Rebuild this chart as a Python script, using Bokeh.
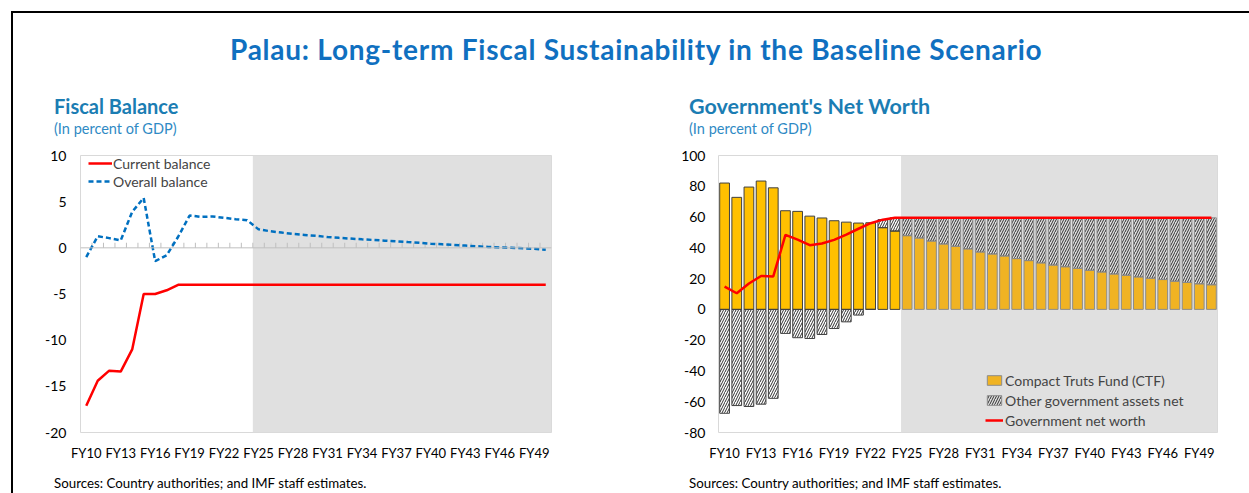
from bokeh.plotting import figure
from bokeh.models import (ColumnDataSource, Range1d, FixedTicker, BoxAnnotation, Span,
                          Legend, LegendItem, Div)
from bokeh.layouts import column, row
from bokeh.embed import file_html
from bokeh.resources import INLINE

# ---------------- data ----------------
years = ["FY10", "FY11", "FY12", "FY13", "FY14", "FY15", "FY16", "FY17", "FY18", "FY19",
         "FY20", "FY21", "FY22", "FY23", "FY24", "FY25", "FY26", "FY27", "FY28", "FY29",
         "FY30", "FY31", "FY32", "FY33", "FY34", "FY35", "FY36", "FY37", "FY38", "FY39",
         "FY40", "FY41", "FY42", "FY43", "FY44", "FY45", "FY46", "FY47", "FY48", "FY49",
         "FY50"]
tick_labels = ["FY10", "FY13", "FY16", "FY19", "FY22", "FY25", "FY28", "FY31", "FY34",
               "FY37", "FY40", "FY43", "FY46", "FY49"]
projection_start = "FY25"
left_y_ticks = [-20, -15, -10, -5, 0, 5, 10]
right_y_ticks = [-80, -60, -40, -20, 0, 20, 40, 60, 80, 100]

main_title = "Palau: Long-term Fiscal Sustainability in the Baseline Scenario"
left_heading = "Fiscal Balance"
right_heading = "Government's Net Worth"
unit_note = "(In percent of GDP)"
source_note = "Sources: Country authorities; and IMF staff estimates."

current_balance = [-17.1, -14.4, -13.3, -13.4, -11.0, -5.0, -5.0, -4.6, -4.0, -4.0,
                   -4.0, -4.0, -4.0, -4.0, -4.0, -4.0, -4.0, -4.0, -4.0, -4.0,
                   -4.0, -4.0, -4.0, -4.0, -4.0, -4.0, -4.0, -4.0, -4.0, -4.0,
                   -4.0, -4.0, -4.0, -4.0, -4.0, -4.0, -4.0, -4.0, -4.0, -4.0,
                   -4.0]
overall_balance = [-1.0, 1.25, 1.05, 0.8, 3.9, 5.4, -1.45, -0.8, 1.2, 3.5,
                   3.35, 3.4, 3.25, 3.1, 3.0, 2.0, 1.8, 1.65, 1.5, 1.4,
                   1.3, 1.17, 1.08, 1.0, 0.92, 0.85, 0.78, 0.7, 0.62, 0.55,
                   0.45, 0.38, 0.31, 0.24, 0.17, 0.1, 0.03, 0.0, -0.05, -0.1,
                   -0.2]

ctf = [82.1, 72.8, 79.5, 83.4, 79.0, 64.1, 63.7, 60.6, 59.4, 57.6,
       56.7, 56.1, 56.3, 53.1, 50.9, 47.9, 46.4, 44.4, 42.5, 41.0,
       39.3, 37.3, 36.0, 34.7, 33.0, 31.7, 30.2, 28.8, 27.7, 26.7,
       25.4, 24.3, 23.0, 22.2, 21.1, 20.3, 19.4, 18.3, 17.5, 16.6,
       16.0]
other_assets = [-67.5, -62.5, -63.1, -61.6, -57.8, -15.6, -18.4, -18.9, -16.3, -12.4,
                -8.1, -3.7, 0.0, 5.2, 8.6, 11.6, 13.1, 15.1, 17.0, 18.5,
                20.2, 22.2, 23.5, 24.8, 26.5, 27.8, 29.3, 30.7, 31.8, 32.8,
                34.1, 35.2, 36.5, 37.3, 38.4, 39.2, 40.1, 41.2, 42.0, 42.9,
                43.5]
net_worth = [14.8, 10.5, 16.8, 21.7, 21.4, 48.4, 45.3, 41.7, 42.8, 45.2,
             48.6, 52.4, 56.0, 58.3, 59.5, 59.5, 59.5, 59.5, 59.5, 59.5,
             59.5, 59.5, 59.5, 59.5, 59.5, 59.5, 59.5, 59.5, 59.5, 59.5,
             59.5, 59.5, 59.5, 59.5, 59.5, 59.5, 59.5, 59.5, 59.5, 59.5,
             59.5]

# ---------------- styling helpers ----------------
FONT = "Lato"
x = list(range(len(years)))
tick_pos = [years.index(t) for t in tick_labels]
proj_idx = years.index(projection_start)
proj_edge = proj_idx - 0.5
x_lo, x_hi = -0.5, len(years) - 0.5

HEAD_H = 129
H = 324
FOOT_H = 27
B_TOP, B_BOT = 13, 34


def style(p, yticks, ystandoff):
    p.xgrid.visible = False
    p.ygrid.visible = False
    p.outline_line_color = "#D9D9D9"
    p.outline_line_width = 1
    p.background_fill_color = "white"
    p.border_fill_color = "white"
    p.xaxis.ticker = FixedTicker(ticks=tick_pos)
    p.xaxis.major_label_overrides = {i: t for i, t in zip(tick_pos, tick_labels)}
    p.yaxis.ticker = FixedTicker(ticks=yticks)
    p.yaxis.major_label_overrides = {v: str(v) for v in yticks}
    for ax in (p.xaxis[0], p.yaxis[0]):
        ax.axis_line_color = None
        ax.major_tick_line_color = None
        ax.minor_tick_line_color = None
        ax.major_tick_out = 0
        ax.major_tick_in = 0
        ax.major_label_text_font = FONT
        ax.major_label_text_color = "#000000"
    p.xaxis.major_label_text_font_size = "13px"
    p.yaxis.major_label_text_font_size = "14px"
    p.xaxis.major_label_standoff = 12
    p.yaxis.major_label_standoff = ystandoff


# ---------------- left chart ----------------
p1 = figure(width=617, height=H, x_range=Range1d(x_lo, x_hi),
            y_range=Range1d(left_y_ticks[0], left_y_ticks[-1]),
            output_backend="svg", toolbar_location=None, title=None,
            min_border_left=67, min_border_right=79, min_border_top=B_TOP,
            min_border_bottom=B_BOT)
style(p1, left_y_ticks, 14)

p1.add_layout(BoxAnnotation(left=proj_edge, right=x_hi, bottom=left_y_ticks[0],
                            top=left_y_ticks[-1], fill_color="#E0E0E0", fill_alpha=1,
                            line_alpha=0, level="underlay"))
p1.add_layout(Span(location=0, dimension="width", line_color="#BFBFBF", line_width=1))
p1.segment(x0=[i - 0.5 for i in x[1:]], y0=0, x1=[i - 0.5 for i in x[1:]], y1=0.55,
           line_color="#BFBFBF", line_width=1)

r_cur = p1.line(x, current_balance, line_color="#FF0000", line_width=2.5)
r_ovr = p1.line(x, overall_balance, line_color="#0070C0", line_width=2.5, line_dash="5 3")

leg1 = Legend(items=[LegendItem(label="Current balance", renderers=[r_cur]),
                     LegendItem(label="Overall balance", renderers=[r_ovr])],
              location=(8, 242), border_line_color=None, background_fill_alpha=0,
              label_text_font=FONT, label_text_font_size="14px", glyph_width=24,
              glyph_height=18, label_height=18, label_standoff=1, spacing=0,
              padding=0, margin=0)
p1.add_layout(leg1)

# ---------------- right chart ----------------
p2 = figure(width=611, height=H, x_range=Range1d(x_lo, x_hi),
            y_range=Range1d(right_y_ticks[0], right_y_ticks[-1]),
            output_backend="svg", toolbar_location=None, title=None,
            min_border_left=88, min_border_right=24, min_border_top=B_TOP,
            min_border_bottom=B_BOT)
style(p2, right_y_ticks, 13)

p2.add_layout(BoxAnnotation(left=proj_edge, right=x_hi, bottom=right_y_ticks[0],
                            top=right_y_ticks[-1], fill_color="#E0E0E0", fill_alpha=1,
                            line_alpha=0, level="underlay"))

hatch_bottom = [c if o > 0 else 0 for c, o in zip(ctf, other_assets)]
hatch_top = [b + o for b, o in zip(hatch_bottom, other_assets)]
src = ColumnDataSource(dict(
    x=x, ctf=ctf, hbot=hatch_bottom, htop=hatch_top,
    fill=["#FFC000" if i < proj_idx else "#F0B323" for i in x],
    edge=["#404040" if i < proj_idx else "#8C8C8C" for i in x],
))
r_ctf = p2.vbar(x="x", top="ctf", bottom=0, width=0.8, fill_color="fill",
                line_color="edge", line_width=1, source=src)
r_oth = p2.vbar(x="x", top="htop", bottom="hbot", width=0.8, fill_color=None,
                hatch_pattern="/", hatch_color="#303030", hatch_scale=5, hatch_weight=1,
                line_color="edge", line_width=1, source=src)
r_net = p2.line(x, net_worth, line_color="#FF0000", line_width=2.5)

leg2 = Legend(items=[LegendItem(label="Compact Truts Fund (CTF)", renderers=[r_ctf], index=len(x) - 1),
                     LegendItem(label="Other government assets net", renderers=[r_oth], index=len(x) - 1),
                     LegendItem(label="Government net worth", renderers=[r_net])],
              location=(267, 2), border_line_color=None, background_fill_alpha=0,
              label_text_font=FONT, label_text_font_size="14px", glyph_width=18,
              glyph_height=12, label_height=20, label_standoff=2, spacing=0,
              padding=0, margin=0)
p2.add_layout(leg2)

# ---------------- page ----------------
def span(text, left, top, size, weight, color, lh, extra=""):
    return (f'<div style="position:absolute; left:{left}px; top:{top}px; font-size:{size}px; '
            f'font-weight:{weight}; color:{color}; line-height:{lh}px; white-space:nowrap;{extra}">'
            f'{text}</div>')


head_html = ('<div style="position:relative; width:1228px; height:%dpx; font-family:Lato;">' % HEAD_H
             + span(main_title, 217, 19, 28, "bold", "#1070C0", 34, " letter-spacing:0.75px;")
             + span(left_heading, 41, 81, 20, "bold", "#1B7DB3", 24)
             + span(unit_note, 41, 107, 14.5, "normal", "#2F8AC4", 18)
             + span(right_heading, 676, 81, 21.5, "bold", "#1B7DB3", 24)
             + span(unit_note, 676, 107, 14.5, "normal", "#2F8AC4", 18)
             + '</div>')
head = Div(text=head_html, width=1228, height=HEAD_H, margin=0)

foot_html = ('<div style="position:relative; width:1228px; height:%dpx; font-family:Lato;">' % FOOT_H
             + span(source_note, 41, 9, 13.3, "normal", "#000000", 17)
             + span(source_note, 676, 9, 13.3, "normal", "#000000", 17)
             + '</div>')
foot = Div(text=foot_html, width=1228, height=FOOT_H, margin=0)

top_line = Div(text="", width=1238, height=2, margin=(11, 0, 0, 11),
               styles={"background-color": "black"})
left_line = Div(text="", width=2, height=HEAD_H + H + FOOT_H, margin=(0, 0, 0, 11),
                styles={"background-color": "black"})

content = column(head, row(p1, p2, spacing=0), foot, spacing=0)
page = column(top_line, row(left_line, content, spacing=0), spacing=0)

open("out.html", "w").write(file_html(page, INLINE))
